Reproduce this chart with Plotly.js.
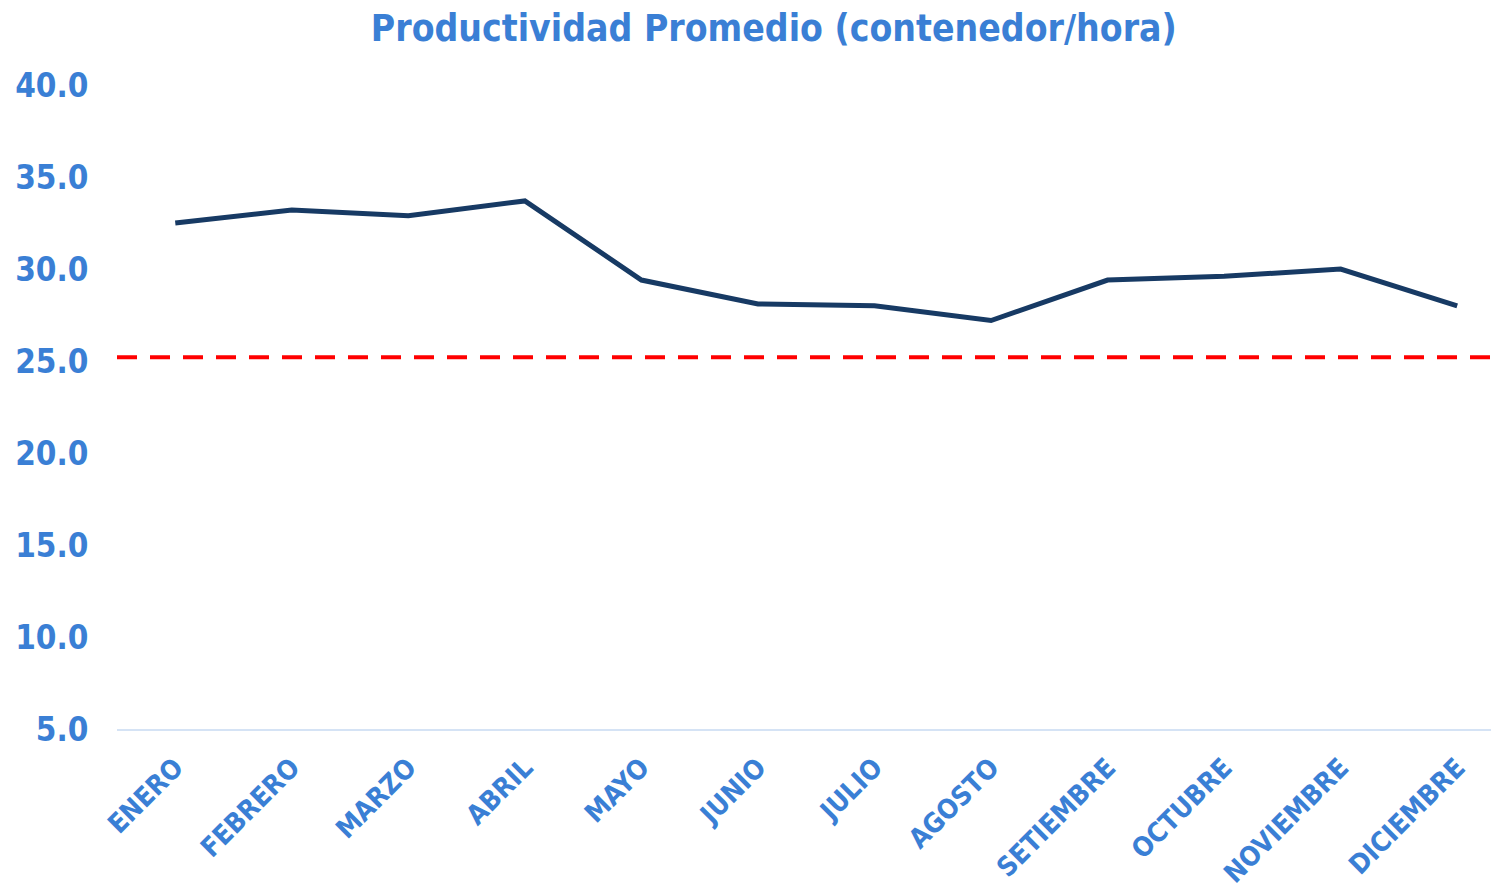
<!DOCTYPE html>
<html lang="es">
<head>
<meta charset="UTF-8">
<title>Productividad Promedio</title>
<script src="https://cdn.plot.ly/plotly-3.0.1.min.js"></script>
<style>
  html, body { margin: 0; padding: 0; background: #fff; }
  #chart { width: 1491px; height: 888px; }
</style>
</head>
<body>
<div id="chart"></div>
<script>
// datos
const meses = ['ENERO', 'FEBRERO', 'MARZO', 'ABRIL', 'MAYO', 'JUNIO', 'JULIO',
               'AGOSTO', 'SETIEMBRE', 'OCTUBRE', 'NOVIEMBRE', 'DICIEMBRE'];
const productividad = [32.5, 33.2, 32.9, 33.7, 29.4, 28.1, 28.0, 27.2, 29.4, 29.6, 30.0, 28.0];
const meta = 25.2;
const yTicks = [5, 10, 15, 20, 25, 30, 35, 40];

const azul = '#3a7fd5';
const fuente = 'DejaVu Sans Condensed, DejaVu Sans, sans-serif';

const data = [{
  type: 'scatter',
  mode: 'lines',
  x: meses,
  y: productividad,
  line: { color: '#173a64', width: 5 },
  hoverinfo: 'x+y'
}];

const layout = {
  width: 1491,
  height: 888,
  margin: { l: 117, r: 0, t: 85, b: 159 },
  paper_bgcolor: '#fff',
  plot_bgcolor: '#fff',
  showlegend: false,
  title: {
    text: '<b>Productividad Promedio (contenedor/hora)</b>',
    font: { family: fuente, size: 37, color: azul },
    x: 0.519, xanchor: 'center', y: 0.968, yanchor: 'middle'
  },
  xaxis: {
    type: 'category',
    range: [-0.5, 11.29],
    showgrid: false,
    showline: true,
    linecolor: '#d5e3f5',
    linewidth: 2,
    zeroline: false,
    ticks: 'outside',
    ticklen: 10,
    tickcolor: 'rgba(0,0,0,0)',
    tickangle: -45,
    tickfont: { family: fuente, size: 27, color: azul, weight: 'bold' }
  },
  yaxis: {
    range: [5, 40],
    tickvals: yTicks,
    ticktext: yTicks.map(v => '<b>' + v.toFixed(1) + '</b>'),
    showgrid: false,
    showline: false,
    zeroline: false,
    ticks: 'outside',
    ticklen: 21,
    tickcolor: 'rgba(0,0,0,0)',
    tickfont: { family: fuente, size: 33, color: azul }
  },
  shapes: [{
    type: 'line',
    xref: 'paper', x0: 0, x1: 1,
    yref: 'y', y0: meta, y1: meta,
    line: { color: '#ff0000', width: 4, dash: '20px,13px' }
  }]
};

Plotly.newPlot('chart', data, layout, { displayModeBar: false, staticPlot: true });
</script>
</body>
</html>
